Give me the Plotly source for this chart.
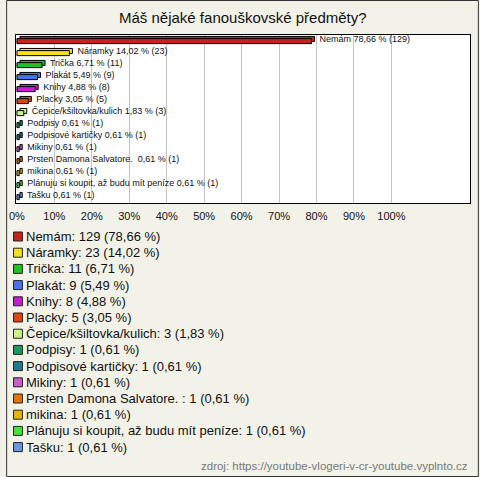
import plotly.graph_objects as go

categories = ["Nemám", "Náramky", "Trička", "Plakát", "Knihy", "Placky",
              "Čepice/kšiltovka/kulich", "Podpisy", "Podpisové kartičky", "Mikiny",
              "Prsten Damona Salvatore. ", "mikina", "Plánuju si koupit, až budu mít peníze", "Tašku"]
counts = [129, 23, 11, 9, 8, 5, 3, 1, 1, 1, 1, 1, 1, 1]
percents = [78.66, 14.02, 6.71, 5.49, 4.88, 3.05, 1.83, 0.61, 0.61, 0.61, 0.61, 0.61, 0.61, 0.61]
colors = ["#c0261a", "#f2e21e", "#22c022", "#4a72e8", "#c41ed0", "#e04412", "#ccf589",
          "#1a9a62", "#207a90", "#c65fc6", "#e2760e", "#e6b40c", "#44e23c", "#6d96e0"]
tick_vals = list(range(0, 101, 10))
tick_text = [f"{v}%" for v in tick_vals]

def fmt(p):
    return f"{p:.2f}".replace(".", ",")

bar_labels = [f"{c} {fmt(p)} % ({n})" for c, p, n in zip(categories, percents, counts)]
legend_labels = [f"{c}: {n} ({fmt(p)} %)" for c, p, n in zip(categories, percents, counts)]

W, H = 480, 477
ML, MR, MT, MB = 10, 9, 35, 274
PW, PH = W - ML - MR, H - MT - MB

def px_x(px):
    return (px - ML) / PW

def px_y(py):
    return (H - MB - py) / PH

ypos = list(range(len(categories)))

fig = go.Figure()
# depth (3D) part
fig.add_trace(go.Bar(
    x=percents, y=ypos, orientation="h", base=0.8,
    width=0.42, offset=-0.38,
    marker=dict(color=colors, line=dict(color="#000000", width=1)),
    text=["  " + t for t in bar_labels], textposition="outside",
    textfont=dict(family="Liberation Sans, Arial", size=9, color="#111111"),
    constraintext="none", cliponaxis=False, hoverinfo="skip", showlegend=False,
))
# front face
fig.add_trace(go.Bar(
    x=percents, y=ypos, orientation="h",
    width=0.42, offset=-0.2,
    marker=dict(color=colors, line=dict(color="#000000", width=1)),
    hoverinfo="skip", showlegend=False,
))

annotations = [dict(
    text="Máš nějaké fanouškovské předměty?", xref="paper", yref="paper",
    x=px_x(240), y=px_y(18), xanchor="center", yanchor="middle", showarrow=False,
    font=dict(family="Liberation Sans, Arial", size=15, color="#111111"),
), dict(
    text="zdroj: https://youtube-vlogeri-v-cr-youtube.vyplnto.cz", xref="paper", yref="paper",
    x=px_x(471), y=px_y(466), xanchor="right", yanchor="middle", showarrow=False,
    font=dict(family="Liberation Sans, Arial", size=11.5, color="#777777"),
)]
shapes = [dict(type="rect", xref="paper", yref="paper",
               x0=px_x(0.5), x1=px_x(479.5), y0=px_y(476.5), y1=px_y(0.5),
               line=dict(color="#333333", width=1), fillcolor="rgba(0,0,0,0)", layer="below")]

row_gap = 16.2
for i, (lab, col) in enumerate(zip(legend_labels, colors)):
    cy = 236.5 + i * row_gap
    shapes.append(dict(type="rect", xref="paper", yref="paper",
                       x0=px_x(7.5), x1=px_x(16.5), y0=px_y(cy + 4.5), y1=px_y(cy - 4.5),
                       fillcolor=col, line=dict(color="#222222", width=1)))
    annotations.append(dict(
        text=lab, xref="paper", yref="paper", x=px_x(18), y=px_y(cy),
        xanchor="left", yanchor="middle", showarrow=False,
        font=dict(family="Liberation Sans, Arial", size=13, color="#111111"),
    ))

fig.update_layout(
    width=W, height=H,
    margin=dict(l=ML, r=MR, t=MT, b=MB),
    paper_bgcolor="#f3f2e9", plot_bgcolor="#ffffff",
    barmode="overlay", showlegend=False,
    xaxis=dict(range=[-0.25, 121], tickvals=tick_vals, ticktext=tick_text,
               showgrid=True, gridcolor="#c4c4c4", gridwidth=1, zeroline=False,
               showline=True, linecolor="#000000", linewidth=1, mirror=True,
               ticks="", ticklabelstandoff=3,
               tickfont=dict(family="Liberation Sans, Arial", size=11, color="#111111"),
               fixedrange=True),
    yaxis=dict(range=[len(categories) - 0.5, -0.5], showticklabels=False, showgrid=False,
               zeroline=False, showline=True, linecolor="#000000", linewidth=1, mirror=True,
               ticks="", fixedrange=True),
    annotations=annotations, shapes=shapes,
)

fig.write_html(
    "out.html", config={"displayModeBar": False},
    post_script=(
        "document.body.style.margin='0';document.body.style.padding='0';"
        "document.body.style.overflow='hidden';"
        "var d=document.getElementsByClassName('plotly-graph-div')[0];"
        "d.style.position='absolute';d.style.left='0px';d.style.top='0px';"
    ),
)
